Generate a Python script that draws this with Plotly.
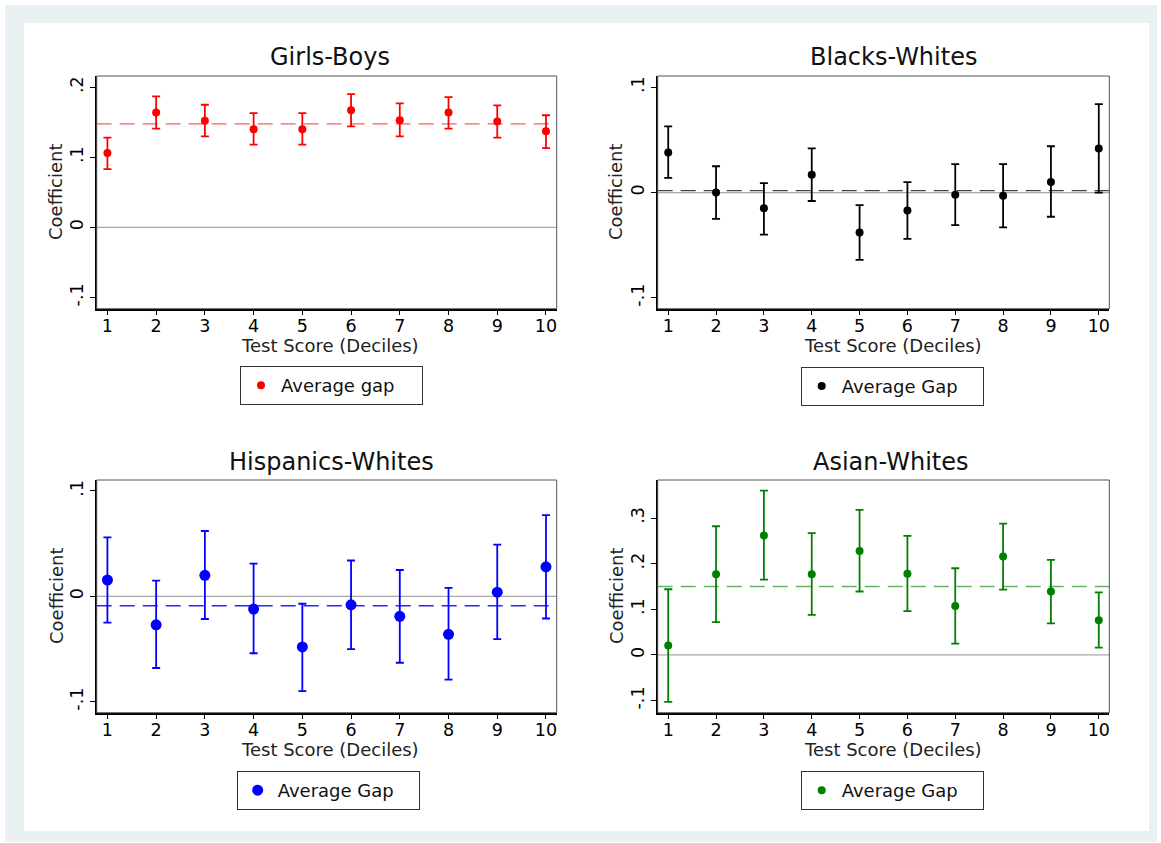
import plotly.graph_objects as go

deciles = list(range(1, 11))

# Girls-Boys
gb_coef = [0.106, 0.164, 0.152, 0.140, 0.140, 0.167, 0.153, 0.164, 0.151, 0.137]
gb_hi = [0.128, 0.187, 0.175, 0.163, 0.163, 0.190, 0.177, 0.186, 0.174, 0.160]
gb_lo = [0.083, 0.141, 0.130, 0.118, 0.118, 0.144, 0.130, 0.141, 0.128, 0.113]
gb_avg = 0.1476

# Blacks-Whites
bw_coef = [0.038, 0.000, -0.015, 0.017, -0.038, -0.017, -0.002, -0.003, 0.010, 0.042]
bw_hi = [0.063, 0.025, 0.009, 0.042, -0.012, 0.010, 0.027, 0.027, 0.044, 0.084]
bw_lo = [0.014, -0.025, -0.040, -0.008, -0.064, -0.044, -0.031, -0.033, -0.023, 0.000]
bw_avg = 0.0019

# Hispanics-Whites
hw_coef = [0.0155, -0.027, 0.020, -0.012, -0.048, -0.008, -0.019, -0.036, 0.004, 0.028]
hw_hi = [0.056, 0.015, 0.062, 0.031, -0.007, 0.034, 0.025, 0.008, 0.049, 0.077]
hw_lo = [-0.025, -0.068, -0.0215, -0.054, -0.090, -0.050, -0.063, -0.079, -0.0405, -0.021]
hw_avg = -0.0089

# Asian-Whites
aw_coef = [0.0205, 0.177, 0.262, 0.177, 0.228, 0.178, 0.1075, 0.216, 0.139, 0.076]
aw_hi = [0.144, 0.282, 0.360, 0.267, 0.318, 0.261, 0.190, 0.288, 0.2085, 0.137]
aw_lo = [-0.103, 0.072, 0.165, 0.088, 0.139, 0.096, 0.025, 0.143, 0.069, 0.016]
aw_avg = 0.150

titles = ["Girls-Boys", "Blacks-Whites", "Hispanics-Whites", "Asian-Whites"]
legend_names = ["Average gap", "Average Gap", "Average Gap", "Average Gap"]
x_title = "Test Score (Deciles)"
y_title = "Coefficient"
y_ticks = [[-0.1, 0, 0.1, 0.2], [-0.1, 0, 0.1], [-0.1, 0, 0.1], [-0.1, 0, 0.1, 0.2, 0.3]]
y_ticktext = [["-.1", "0", ".1", ".2"], ["-.1", "0", ".1"], ["-.1", "0", ".1"],
              ["-.1", "0", ".1", ".2", ".3"]]
y_ranges = [[-0.116, 0.216], [-0.1104, 0.1108], [-0.1104, 0.1104], [-0.1266, 0.3834]]

panels = [
    (gb_coef, gb_hi, gb_lo, gb_avg),
    (bw_coef, bw_hi, bw_lo, bw_avg),
    (hw_coef, hw_hi, hw_lo, hw_avg),
    (aw_coef, aw_hi, aw_lo, aw_avg),
]

colors = ["#ff0000", "#000000", "#0000ff", "#008000"]
dash_colors = ["rgba(255,0,0,0.65)", "rgba(0,0,0,0.75)", "rgba(0,0,255,0.85)", "rgba(0,128,0,0.6)"]
marker_sizes = [8, 8, 11, 8]

W, H = 1161, 843
def px(x):
    return x / W
def py(y):
    return 1 - y / H

x_domains = [[px(96.7), px(556.7)], [px(657.7), px(1109.3)]]
y_domains = [[py(308.7), py(76)], [py(712.7), py(480)]]

title_pos = [(330, 57), (893, 57), (331, 462), (890, 462)]
xtitle_pos = [(330, 345), (893, 345), (330, 749), (893, 749)]
ytitle_pos = [(56, 192), (616, 192), (56, 596), (616, 596)]
legend_pos = [(240, 366), (800.7, 366.7), (236.7, 771), (800.7, 771)]

fig = go.Figure()
font_family = "DejaVu Sans"

shapes = [
    dict(type="rect", xref="paper", yref="paper", x0=px(5), x1=px(1157), y0=py(842), y1=py(5),
         fillcolor="#e9f1f3", line=dict(width=0), layer="below"),
    dict(type="rect", xref="paper", yref="paper", x0=px(24), x1=px(1149), y0=py(831), y1=py(23),
         fillcolor="#ffffff", line=dict(width=0), layer="below"),
]
annotations = []

for i, (coef, hi, lo, avg) in enumerate(panels):
    n = i + 1
    suffix = "" if n == 1 else str(n)
    row, col = divmod(i, 2)
    xa = "x" + suffix
    ya = "y" + suffix
    legend_id = "legend" + suffix
    err_plus = [h - c for h, c in zip(hi, coef)]
    err_minus = [c - l for c, l in zip(coef, lo)]
    fig.add_trace(go.Scatter(
        x=deciles, y=coef, mode="markers", name=legend_names[i],
        marker=dict(color=colors[i], size=marker_sizes[i]),
        error_y=dict(type="data", array=err_plus, arrayminus=err_minus,
                     color=colors[i], thickness=1.8, width=4),
        xaxis=xa, yaxis=ya, legend=legend_id, showlegend=True,
    ))
    layout_x = dict(
        domain=x_domains[col], range=[0.78, 10.22], anchor=ya,
        tickvals=deciles, ticks="outside", ticklen=5, tickwidth=1.2, tickcolor="#000",
        showline=True, linecolor="#000", linewidth=1.5, showgrid=False, zeroline=False,
        ticklabelstandoff=-4,
        tickfont=dict(size=17.5, color="#000", family=font_family),
    )
    layout_y = dict(
        domain=y_domains[row], range=y_ranges[i], anchor=xa,
        tickvals=y_ticks[i], ticktext=y_ticktext[i], tickangle=-90,
        ticks="outside", ticklen=5, tickwidth=1.2, tickcolor="#000",
        showline=True, linecolor="#000", linewidth=1.5, showgrid=False, zeroline=False,
        tickfont=dict(size=17.5, color="#000", family=font_family),
    )
    fig.update_layout(**{"xaxis" + suffix: layout_x, "yaxis" + suffix: layout_y})

    # plot region border
    shapes.append(dict(type="rect", xref=xa + " domain", yref=ya + " domain", x0=0, x1=1, y0=0, y1=1,
                       line=dict(color="#555", width=1), layer="above"))
    # zero line
    shapes.append(dict(type="line", xref=xa + " domain", yref=ya, x0=0, x1=1, y0=0, y1=0,
                       line=dict(color="#a8a8a8", width=1.3), layer="below"))
    # average dashed line
    shapes.append(dict(type="line", xref=xa + " domain", yref=ya, x0=0, x1=1, y0=avg, y1=avg,
                       line=dict(color=dash_colors[i], width=1.3, dash="15px,8px"), layer="below"))

    tx, ty = title_pos[i]
    annotations.append(dict(text=titles[i], x=px(tx), y=py(ty), xref="paper", yref="paper",
                            showarrow=False, xanchor="center", yanchor="middle",
                            font=dict(size=24, color="#111", family=font_family)))
    ax_, ay_ = xtitle_pos[i]
    annotations.append(dict(text=x_title, x=px(ax_), y=py(ay_), xref="paper", yref="paper",
                            showarrow=False, xanchor="center", yanchor="middle",
                            font=dict(size=18, color="#222", family=font_family)))
    bx_, by_ = ytitle_pos[i]
    annotations.append(dict(text=y_title, x=px(bx_), y=py(by_), xref="paper", yref="paper",
                            showarrow=False, xanchor="center", yanchor="middle", textangle=-90,
                            font=dict(size=18, color="#222", family=font_family)))

    lx, ly = legend_pos[i]
    fig.update_layout(**{legend_id: dict(
        x=px(lx), y=py(ly), xanchor="left", yanchor="top", orientation="h",
        bordercolor="#333", borderwidth=1, bgcolor="#ffffff",
        entrywidth=136, entrywidthmode="pixels", itemsizing="trace",
        font=dict(size=18, color="#111", family=font_family),
    )})

fig.update_layout(
    width=W, height=H, margin=dict(l=0, r=0, t=0, b=0),
    paper_bgcolor="#ffffff", plot_bgcolor="#ffffff",
    shapes=shapes, annotations=annotations,
    font=dict(family=font_family),
)

fig.write_html("out.html")
